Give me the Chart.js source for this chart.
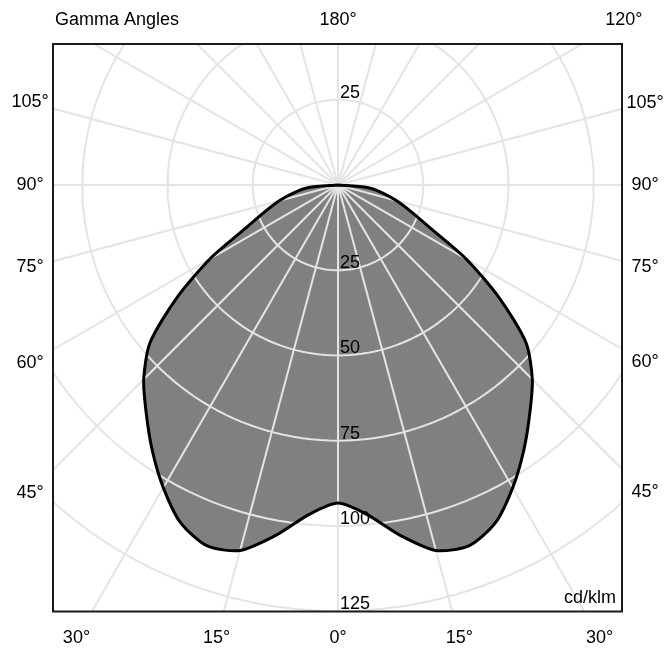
<!DOCTYPE html>
<html><head><meta charset="utf-8">
<script src="https://cdn.jsdelivr.net/npm/chart.js@4.4.1/dist/chart.umd.min.js"></script>
<style>html,body{margin:0;padding:0;background:#fff}</style>
</head><body>
<canvas id="c" width="669" height="650"></canvas>
<script>
// Gamma angles (degrees from nadir) and luminous intensity (cd/klm)
const gammaAngles   = [0, 5, 10, 15, 20, 25, 30, 35, 40, 45, 50, 55, 60, 65, 70, 75, 80, 85, 90];
const intensityC0   = [93.3, 97.0, 104.3, 111.0, 112.6, 109.3, 102.5, 95.0, 87.5, 80.6, 72.0, 57.8, 43.4, 29.8, 22.7, 17.7, 13.2, 8.6, 0];
const intensityC180 = [93.3, 97.0, 104.3, 111.0, 112.6, 109.3, 102.5, 95.0, 87.5, 80.6, 72.0, 57.8, 43.4, 29.8, 22.7, 17.7, 13.2, 8.6, 0];

// Grid
const ringValues      = [25, 50, 75, 100, 125, 150];
const ringLabelValues = [25, 50, 75, 100, 125];
const spokeAngles     = [0, 15, 30, 45, 60, 75, 90, 105, 120, 135, 150, 165, 180, 195, 210, 225, 240, 255, 270, 285, 300, 315, 330, 345];

// Tick labels
const bottomTickAngles = [-30, -15, 0, 15, 30];
const sideTickAngles   = [45, 60, 75, 90, 105];
const topTickAngles    = [180, 120];
const axisTitle = 'Gamma Angles';
const unitLabel = 'cd/klm';

const FONT = '18px "Liberation Sans", Arial, sans-serif';
const GRID = '#e4e4e4';

function polar(I, g) {
  const a = g * Math.PI / 180;
  return { x: I * Math.sin(a), y: -I * Math.cos(a) };
}

const curve = [];
for (let i = gammaAngles.length - 1; i >= 0; i--) curve.push(polar(intensityC180[i], -gammaAngles[i]));
for (let i = 1; i < gammaAngles.length; i++) curve.push(polar(intensityC0[i], gammaAngles[i]));

const datasets = [];
// outline on top
datasets.push({ data: curve, showLine: true, fill: false, borderColor: '#000', borderWidth: 3, tension: 0.25, pointRadius: 0, order: 0 });
// rings
ringValues.forEach(r => {
  const pts = [];
  for (let a = 0; a <= 360; a += 2) pts.push(polar(r, a));
  datasets.push({ data: pts, showLine: true, fill: false, borderColor: GRID, borderWidth: 2, tension: 0, pointRadius: 0, clip: 0, order: 1 });
});
// spokes
spokeAngles.forEach(a => {
  datasets.push({ data: [{ x: 0, y: 0 }, polar(220, a)], showLine: true, fill: false, borderColor: GRID, borderWidth: 2, pointRadius: 0, clip: 0, order: 1 });
});
// fill below everything
datasets.push({ data: curve, showLine: true, fill: 'shape', backgroundColor: '#808080', borderWidth: 0, borderColor: 'rgba(0,0,0,0)', tension: 0.25, pointRadius: 0, order: 3 });

const labelsPlugin = {
  id: 'polarLabels',
  afterDatasetsDraw(chart) {
    const { ctx, chartArea: ca, scales: { x, y } } = chart;
    ctx.save();
    ctx.lineWidth = 2;
    ctx.strokeStyle = '#1a1a1a';
    ctx.strokeRect(ca.left, ca.top, ca.right - ca.left, ca.bottom - ca.top);

    ctx.fillStyle = '#000';
    ctx.font = FONT;
    const cx = x.getPixelForValue(0);

    // ring labels
    ctx.textAlign = 'left';
    ctx.textBaseline = 'alphabetic';
    ringLabelValues.forEach(v => {
      const yb = y.getPixelForValue(-v);
      if (yb <= ca.bottom + 1) ctx.fillText(String(v), cx + 2, yb - 2);
      const yt = y.getPixelForValue(v);
      if (yt - 16 >= ca.top) ctx.fillText(String(v), cx + 2, yt - 2);
    });

    ctx.textAlign = 'center';
    ctx.textBaseline = 'middle';
    // bottom
    const yvB = y.getValueForPixel(ca.bottom + 26.5);
    bottomTickAngles.forEach(g => {
      const a = g * Math.PI / 180;
      const t = yvB / (-Math.cos(a));
      ctx.fillText(Math.abs(g) + '°', x.getPixelForValue(t * Math.sin(a)), y.getPixelForValue(yvB));
    });
    // sides
    const xvR = x.getValueForPixel(ca.right + 23);
    const xvL = x.getValueForPixel(ca.left - 23);
    sideTickAngles.forEach(g => {
      const a = g * Math.PI / 180;
      const tR = xvR / Math.sin(a);
      ctx.fillText(g + '°', x.getPixelForValue(xvR), y.getPixelForValue(-tR * Math.cos(a)));
      const tL = xvL / Math.sin(-a);
      ctx.fillText(g + '°', x.getPixelForValue(xvL), y.getPixelForValue(-tL * Math.cos(-a)));
    });
    // top
    const yvT = y.getValueForPixel(ca.top - 24);
    topTickAngles.forEach(g => {
      const a = g * Math.PI / 180;
      const t = yvT / (-Math.cos(a));
      ctx.fillText(g + '°', x.getPixelForValue(t * Math.sin(a)), y.getPixelForValue(yvT));
    });
    ctx.textAlign = 'left';
    ctx.fillText(axisTitle, ca.left + 2, y.getPixelForValue(yvT));

    ctx.textAlign = 'right';
    ctx.textBaseline = 'alphabetic';
    ctx.fillText(unitLabel, ca.right - 6, ca.bottom - 8.5);
    ctx.restore();
  }
};

new Chart(document.getElementById('c'), {
  type: 'scatter',
  data: { datasets },
  options: {
    responsive: false,
    animation: false,
    devicePixelRatio: 1,
    layout: { padding: { left: 53, right: 47, top: 44, bottom: 38.5 } },
    plugins: { legend: { display: false }, tooltip: { enabled: false } },
    scales: {
      x: { type: 'linear', display: false, min: -83.6, max: 83.3 },
      y: { type: 'linear', display: false, min: -125.1, max: 41.35 }
    },
    elements: { point: { radius: 0 } }
  },
  plugins: [labelsPlugin]
});
</script>
</body></html>
